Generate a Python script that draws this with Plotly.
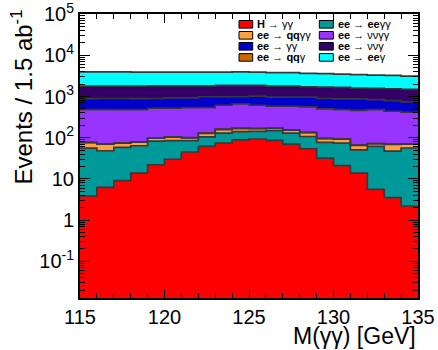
import numpy as np
import plotly.graph_objects as go

# ---- data ----
bin_edges = [115, 116, 117, 118, 119, 120, 121, 122, 123, 124, 125,
             126, 127, 128, 129, 130, 131, 132, 133, 134, 135]
h_gg = [3.85, 6.2, 9.1, 13.8, 21.9, 30, 45, 61.5, 74, 89, 93, 86, 70, 54, 32, 21, 13.8, 5.6, 3.5, 2.2]
ee_eegg = [52, 42, 49, 50, 61, 55, 40, 43, 55, 51, 49, 62, 59, 53, 45, 53, 37, 56, 44, 54]
ee_qqgg = [20.5, 21.5, 15.5, 14, 14.2, 18.2, 14, 23, 28, 27, 23, 21, 24, 26.5, 18, 18, 14.5, 10, 21.5, 13.5]
ee_qqg = [0.5, 0.5, 0.5, 0.5, 0.8, 0.8, 1, 2, 5, 5, 4, 3, 2, 1.5, 1, 1, 0.5, 0.5, 0.5, 0.5]
ee_nngg = [405, 412, 408, 403, 421, 415, 437, 408, 452, 491, 445, 408, 425, 426, 405, 389, 397, 409, 369, 344]
ee_gg = [411, 411, 411, 411, 374, 410, 392, 448, 371, 322, 402, 382, 382, 401, 392, 395, 414, 363, 359, 327]
ee_nng = [889, 889, 889, 889, 927, 891, 891, 835, 868, 868, 837, 820, 820, 760, 794, 783, 719, 722, 744, 742]
ee_eeg = [2178, 2178, 2178, 2118, 2080, 2080, 2080, 2080, 2047, 2107, 2067, 2003, 2003, 1918, 1893, 1840, 1784, 1743, 1708, 1643]

y_tick_vals = [0.1, 1, 10, 100, 1000, 10000, 100000]
y_tick_text = ["10<sup>-1</sup>", "1", "10", "10<sup>2</sup>", "10<sup>3</sup>", "10<sup>4</sup>", "10<sup>5</sup>"]

# stack order (bottom -> top)
stack_names = ["H → γγ", "ee → eeγγ", "ee → qqγγ", "ee → qqγ", "ee → ννγγ", "ee → γγ", "ee → ννγ", "ee → eeγ"]
stack_values = [h_gg, ee_eegg, ee_qqgg, ee_qqg, ee_nngg, ee_gg, ee_nng, ee_eeg]
stack_colors = ["#ff0000", "#009999", "#ffa040", "#cc6600", "#9933ff", "#0000cc", "#330066", "#00ffff"]

# legend layout (row-major, two columns)
legend_html = {
    "H → γγ": "<b>H</b> → γγ",
    "ee → eeγγ": "<b>ee</b> → <b>ee</b>γγ",
    "ee → qqγγ": "<b>ee</b> → <b>qq</b>γγ",
    "ee → ννγγ": "<b>ee</b> → ννγγ",
    "ee → γγ": "<b>ee</b> → γγ",
    "ee → ννγ": "<b>ee</b> → ννγ",
    "ee → qqγ": "<b>ee</b> → <b>qq</b>γ",
    "ee → eeγ": "<b>ee</b> → <b>ee</b>γ",
}
legend_order = ["H → γγ", "ee → eeγγ", "ee → qqγγ", "ee → ννγγ",
                "ee → γγ", "ee → ννγ", "ee → qqγ", "ee → eeγ"]

FONT = "Liberation Sans, Arial, sans-serif"

edges = np.array(bin_edges, dtype=float)
centers = 0.5 * (edges[:-1] + edges[1:])
widths = np.diff(edges)

fig = go.Figure()
for name, vals, col in zip(stack_names, stack_values, stack_colors):
    fig.add_trace(go.Bar(x=centers, y=vals, width=widths, name=name,
                         marker=dict(color=col, line=dict(width=0)),
                         showlegend=False))

cum = np.cumsum(np.array(stack_values, dtype=float), axis=0)
for row in cum:
    fig.add_trace(go.Scatter(x=edges, y=np.append(row, row[-1]), mode="lines",
                             line=dict(color="#383838", width=1.7, shape="hv"),
                             showlegend=False, hoverinfo="skip"))

W, H = 438, 350
L, R, T, B = 80, 20, 14, 52
pw, ph = W - L - R, H - T - B

def px(xp):
    return (xp - L) / pw

def py(yp):
    return (H - B - yp) / ph

shapes = []
annotations = []
col_box_x = [(239, 252.7), (319.3, 333.3)]
col_text_x = [254.5, 336.0]
row_y = [24.3, 35.3, 46.3, 57.4]
color_of = dict(zip(stack_names, stack_colors))
for i, name in enumerate(legend_order):
    r, c = divmod(i, 2)
    x0, x1 = col_box_x[c]
    yc = row_y[r]
    shapes.append(dict(type="rect", xref="paper", yref="paper",
                       x0=px(x0), x1=px(x1), y0=py(yc + 3.8), y1=py(yc - 3.8),
                       fillcolor=color_of[name], line=dict(color="black", width=1)))
    annotations.append(dict(xref="paper", yref="paper", x=px(col_text_x[c]), y=py(yc),
                            xanchor="left", yanchor="middle", showarrow=False,
                            text=legend_html[name],
                            font=dict(family=FONT, size=11, color="black")))

annotations.append(dict(xref="paper", yref="paper", x=1.0, y=py(335.5),
                        xanchor="right", yanchor="middle", showarrow=False,
                        text="M(γγ) [GeV]", font=dict(family=FONT, size=23, color="black")))
annotations.append(dict(xref="paper", yref="paper", x=px(21), y=py(8),
                        xanchor="center", yanchor="top", showarrow=False, textangle=-90,
                        text="Events / 1.5 ab<sup>-1</sup>",
                        font=dict(family=FONT, size=24, color="black")))

fig.update_layout(
    width=W, height=H,
    margin=dict(l=L, r=R, t=T, b=B, pad=0, autoexpand=False),
    paper_bgcolor="white", plot_bgcolor="white",
    barmode="stack", bargap=0,
    font=dict(family=FONT, color="black"),
    shapes=shapes, annotations=annotations,
)
fig.update_xaxes(range=[115, 135], tick0=115, dtick=5, ticks="inside", ticklen=9,
                 tickwidth=1.2, tickcolor="black", showline=True, linecolor="black",
                 linewidth=2, mirror="allticks", showgrid=False, zeroline=False,
                 automargin=False, ticklabeloverflow="allow",
                 tickfont=dict(family=FONT, size=20, color="black"),
                 minor=dict(dtick=1, ticks="inside", ticklen=5, tickcolor="black", tickwidth=1.2,
                            showgrid=False))
fig.update_yaxes(type="log", range=[-1.89, 5.002], tickmode="array",
                 tickvals=y_tick_vals, ticktext=y_tick_text,
                 ticks="inside", ticklen=10, tickwidth=1.2, tickcolor="black",
                 showline=True, linecolor="black", linewidth=2, mirror="allticks",
                 showgrid=False, zeroline=False, automargin=False,
                 ticklabeloverflow="allow",
                 tickfont=dict(family=FONT, size=20, color="black"),
                 minor=dict(dtick="D1", ticks="inside", ticklen=5, tickcolor="black",
                            tickwidth=1.2, showgrid=False))

fig.write_html("out.html", config={"displayModeBar": False},
               post_script="document.body.style.margin='0';")
